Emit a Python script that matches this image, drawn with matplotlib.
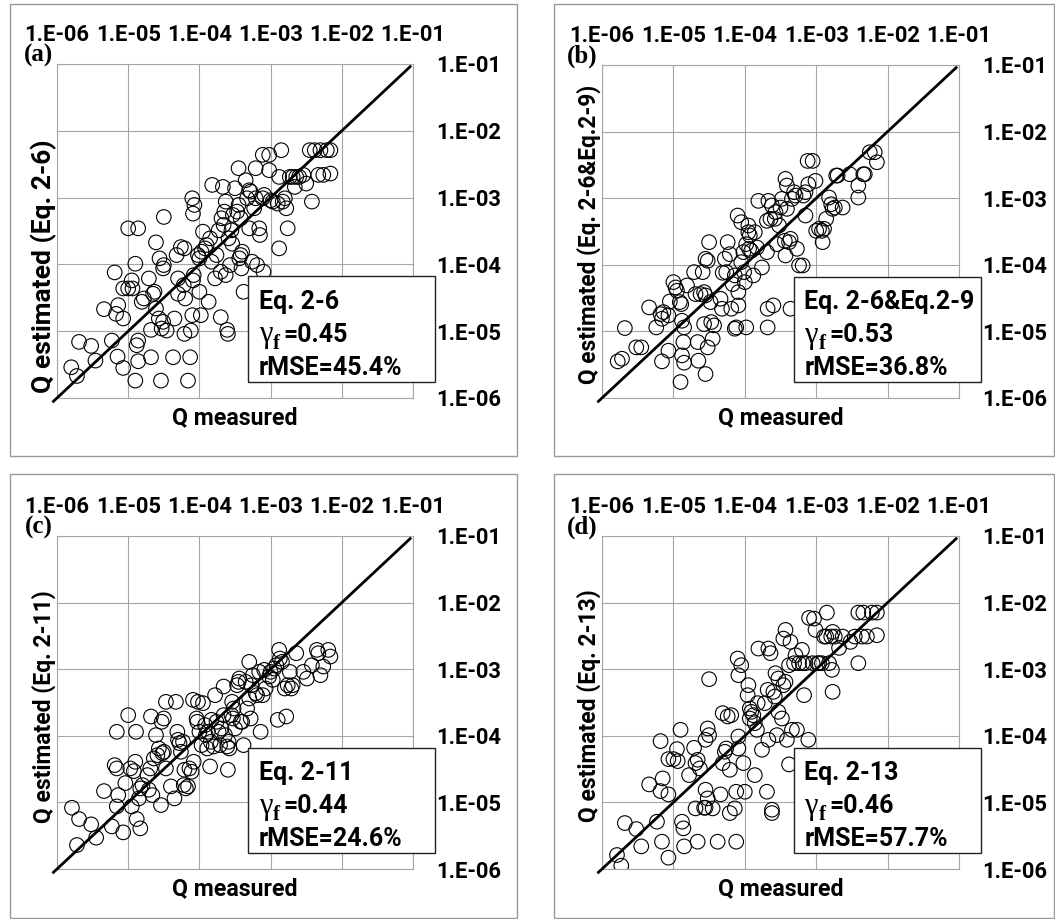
import numpy as np
import matplotlib
matplotlib.use("Agg")
import matplotlib.pyplot as plt
from matplotlib.patches import Rectangle
from matplotlib.ticker import FixedLocator, FixedFormatter, NullLocator

plt.rcParams['font.family'] = ['Roboto', 'DejaVu Sans']

# decade ticks shared by all panels
tick_vals = [1e-6, 1e-5, 1e-4, 1e-3, 1e-2, 1e-1]
tick_labels = ['1.E-06', '1.E-05', '1.E-04', '1.E-03', '1.E-02', '1.E-01']
one_to_one = [10 ** -6.05, 10 ** -1.04]   # ends of the 1:1 line

# points as log10(Q)
a_meas = [-5.80, -5.72, -5.69, -5.52, -5.46, -5.23, -5.15, -5.07, -5.17, -5.14, -5.07, -5.34, -5.19,
          -5.07, -5.00, -4.94, -4.95, -4.90, -5.00, -4.86, -4.90, -4.86, -4.88, -4.86, -4.81, -4.78,
          -4.71, -4.68, -4.68, -4.63, -4.65, -4.61, -4.61, -4.56, -4.57, -4.54, -4.53, -4.51, -4.51,
          -4.50, -4.46, -4.50, -4.37, -4.35, -4.30, -4.32, -4.30, -4.26, -4.22, -4.21, -4.21, -4.20,
          -4.16, -4.13, -4.12, -4.10, -4.09, -4.08, -4.10, -4.09, -4.07, -4.00, -3.98, -4.02, -4.00,
          -3.97, -3.95, -3.92, -3.90, -3.87, -3.85, -3.83, -3.82, -3.78, -3.76, -3.73, -3.70, -3.70,
          -3.69, -3.67, -3.66, -3.65, -3.63, -3.61, -3.60, -3.63, -3.59, -3.57, -3.55, -3.54, -3.53,
          -3.50, -3.47, -3.45, -3.45, -3.42, -3.44, -3.42, -3.41, -3.40, -3.38, -3.35, -3.33, -3.30,
          -3.30, -3.28, -3.26, -3.23, -3.21, -3.21, -3.19, -3.16, -3.15, -3.11, -3.10, -3.11, -3.09,
          -3.02, -3.02, -3.00, -2.97, -2.90, -2.88, -2.85, -2.88, -2.83, -2.80, -2.78, -2.76, -2.73,
          -2.69, -2.66, -2.64, -2.60, -2.54, -2.50, -2.45, -2.42, -2.38, -2.33, -2.30, -2.26, -2.21,
          -2.16, -2.16]
a_est = [-5.54, -5.67, -5.16, -5.22, -5.44, -5.14, -5.38, -5.55, -4.74, -4.61, -4.81, -4.67, -4.12,
         -4.36, -4.36, -4.36, -4.24, -3.99, -3.46, -3.46, -5.74, -5.14, -5.21, -5.45, -4.56, -4.51,
         -4.21, -5.39, -4.98, -4.41, -4.44, -4.66, -3.67, -3.91, -4.81, -5.74, -4.96, -4.86, -4.06,
         -4.01, -4.99, -3.29, -5.39, -4.81, -4.21, -3.86, -4.44, -3.74, -4.31, -3.76, -5.04, -4.51,
         -5.74, -5.39, -4.99, -4.76, -4.24, -4.16, -3.01, -3.24, -3.11, -4.41, -4.76, -3.86, -3.91,
         -3.81, -3.51, -3.76, -3.71, -4.56, -3.61, -3.96, -2.81, -4.21, -3.86, -3.49, -4.79, -4.11,
         -3.31, -2.84, -3.41, -3.21, -4.16, -4.98, -5.04, -3.06, -3.61, -4.01, -3.49, -3.69, -3.26,
         -2.86, -3.21, -3.11, -2.56, -3.31, -3.91, -3.86, -4.06, -3.81, -4.41, -2.74, -3.01, -3.46,
         -2.89, -2.91, -3.96, -3.16, -3.01, -2.56, -4.01, -3.46, -3.56, -3.01, -4.11, -2.36, -2.96,
         -2.36, -2.59, -3.04, -3.06, -3.09, -3.76, -2.29, -2.69, -3.06, -3.01, -3.16, -3.46, -2.69,
         -2.69, -2.84, -2.69, -2.69, -2.66, -2.79, -2.29, -3.06, -2.29, -2.66, -2.29, -2.66, -2.29,
         -2.29, -2.64]

b_meas = [-5.78, -5.72, -5.68, -5.52, -5.45, -5.34, -5.24, -5.18, -5.16, -5.14, -5.16, -5.07, -5.07,
          -5.05, -5.00, -4.97, -4.95, -4.91, -4.89, -4.88, -4.85, -4.90, -4.86, -4.88, -4.85, -4.81,
          -4.71, -4.69, -4.66, -4.65, -4.62, -4.59, -4.57, -4.55, -4.55, -4.52, -4.57, -4.52, -4.55,
          -4.47, -4.48, -4.50, -4.45, -4.43, -4.34, -4.32, -4.31, -4.28, -4.26, -4.24, -4.21, -4.19,
          -4.17, -4.14, -4.14, -4.12, -4.10, -4.09, -4.09, -4.05, -4.05, -4.02, -4.01, -4.00, -3.98,
          -3.98, -3.95, -3.95, -3.94, -3.93, -3.91, -3.88, -3.86, -3.83, -3.81, -3.76, -3.69, -3.68,
          -3.68, -3.69, -3.67, -3.64, -3.62, -3.60, -3.58, -3.57, -3.55, -3.52, -3.50, -3.48, -3.44,
          -3.43, -3.43, -3.41, -3.41, -3.38, -3.36, -3.36, -3.34, -3.31, -3.29, -3.27, -3.24, -3.19,
          -3.18, -3.15, -3.15, -3.12, -3.11, -3.05, -3.01, -3.00, -2.96, -2.92, -2.91, -2.89, -2.86,
          -2.82, -2.79, -2.77, -2.74, -2.72, -2.70, -2.63, -2.53, -2.41, -2.41, -2.34, -2.32, -2.25,
          -2.18, -2.15]
b_est = [-5.45, -5.41, -4.95, -5.24, -5.24, -4.64, -4.94, -4.74, -4.81, -4.71, -5.45, -4.76, -5.29,
         -4.55, -4.26, -4.34, -4.39, -4.56, -4.59, -4.84, -4.94, -5.76, -5.16, -5.36, -5.47, -4.31,
         -4.11, -4.44, -5.16, -5.44, -4.44, -4.11, -4.41, -4.46, -3.91, -3.94, -4.89, -5.24, -5.64,
         -4.86, -4.56, -3.66, -5.11, -4.91, -4.51, -4.66, -4.12, -3.91, -4.11, -3.66, -3.84, -4.66,
         -4.29, -4.96, -4.16, -4.94, -3.26, -4.61, -4.41, -3.36, -3.96, -3.81, -4.11, -4.26, -4.94,
         -3.69, -3.51, -3.41, -3.76, -3.56, -3.79, -4.16, -3.51, -3.74, -3.04, -4.04, -3.81, -4.66,
         -4.94, -3.34, -3.04, -3.31, -3.11, -4.61, -3.31, -3.21, -3.69, -3.41, -3.14, -3.01, -3.64,
         -2.71, -3.86, -2.81, -3.16, -3.66, -4.66, -3.61, -3.01, -2.91, -2.96, -3.76, -4.01, -4.01,
         -2.96, -2.91, -3.26, -2.44, -2.79, -2.44, -2.74, -3.49, -3.46, -3.49, -3.66, -3.46, -3.31,
         -2.99, -3.09, -3.16, -3.14, -2.66, -2.66, -3.14, -2.64, -2.81, -2.99, -2.64, -2.64, -2.31,
         -2.31, -2.46]

c_meas = [-5.79, -5.72, -5.69, -5.52, -5.45, -5.34, -5.23, -5.19, -5.16, -5.16, -5.14, -5.16, -5.07,
          -5.04, -5.00, -4.97, -4.95, -4.92, -4.90, -4.89, -4.88, -4.85, -4.83, -4.83, -4.80, -4.73,
          -4.71, -4.66, -4.69, -4.68, -4.64, -4.61, -4.59, -4.57, -4.54, -4.53, -4.52, -4.50, -4.50,
          -4.47, -4.47, -4.40, -4.35, -4.33, -4.31, -4.30, -4.28, -4.26, -4.23, -4.22, -4.21, -4.19,
          -4.16, -4.14, -4.11, -4.09, -4.08, -4.04, -4.03, -4.02, -4.00, -3.97, -3.95, -3.92, -3.91,
          -3.89, -3.88, -3.85, -3.84, -3.83, -3.80, -3.78, -3.76, -3.73, -3.71, -3.69, -3.66, -3.66,
          -3.64, -3.61, -3.60, -3.59, -3.58, -3.55, -3.54, -3.53, -3.52, -3.50, -3.47, -3.45, -3.44,
          -3.42, -3.40, -3.38, -3.35, -3.33, -3.30, -3.30, -3.28, -3.27, -3.25, -3.21, -3.19, -3.16,
          -3.14, -3.11, -3.09, -3.07, -3.02, -3.00, -2.97, -2.95, -2.92, -2.90, -2.88, -2.87, -2.84,
          -2.80, -2.78, -2.76, -2.73, -2.71, -2.69, -2.64, -2.54, -2.49, -2.42, -2.35, -2.33, -2.30,
          -2.26, -2.19, -2.16]
c_est = [-5.08, -5.64, -5.25, -5.33, -5.53, -4.83, -5.36, -4.44, -4.49, -3.94, -4.89, -5.06, -5.45,
         -4.71, -3.69, -4.49, -5.06, -4.53, -4.39, -3.94, -5.25, -4.94, -5.39, -4.79, -4.74, -4.59,
         -4.81, -4.89, -4.49, -3.71, -4.34, -3.99, -4.29, -4.19, -5.04, -3.79, -4.26, -3.74, -4.24,
         -3.49, -4.49, -4.76, -4.94, -3.49, -3.94, -4.06, -4.11, -4.24, -4.09, -4.74, -4.51, -4.79,
         -4.76, -4.49, -4.54, -3.46, -4.39, -3.74, -3.79, -3.49, -3.94, -4.14, -3.51, -3.84, -3.99,
         -4.19, -3.94, -4.46, -4.09, -3.76, -4.16, -3.39, -3.79, -3.94, -4.14, -3.89, -3.26, -3.69,
         -3.99, -4.16, -4.51, -4.09, -4.19, -3.69, -3.49, -3.74, -3.59, -3.89, -3.24, -3.19, -3.14,
         -3.79, -3.79, -4.14, -3.19, -3.59, -3.44, -2.89, -3.74, -3.24, -3.09, -3.36, -3.39, -3.04,
         -3.94, -3.39, -3.01, -3.29, -3.11, -3.04, -3.16, -2.99, -2.94, -3.76, -2.71, -2.84, -2.89,
         -3.29, -3.71, -3.24, -3.04, -3.29, -3.24, -2.76, -3.04, -3.14, -2.94, -2.71, -2.76, -3.09,
         -2.96, -2.71, -2.81]

d_meas = [-5.79, -5.73, -5.68, -5.52, -5.45, -5.23, -5.16, -5.07, -5.34, -5.18, -5.15, -5.07, -5.18,
          -5.07, -5.00, -4.94, -4.95, -4.90, -4.88, -4.86, -4.85, -4.78, -4.71, -4.69, -4.66, -4.66,
          -4.69, -4.63, -4.57, -4.55, -4.55, -4.52, -4.55, -4.52, -4.50, -4.50, -4.45, -4.38, -4.34,
          -4.31, -4.31, -4.28, -4.26, -4.24, -4.21, -4.19, -4.21, -4.14, -4.12, -4.12, -4.09, -4.09,
          -4.10, -4.09, -4.05, -4.02, -4.00, -3.95, -3.96, -3.93, -3.93, -3.91, -3.88, -3.86, -3.86,
          -3.83, -3.82, -3.81, -3.76, -3.72, -3.69, -3.68, -3.67, -3.67, -3.64, -3.62, -3.62, -3.60,
          -3.58, -3.57, -3.55, -3.53, -3.53, -3.48, -3.46, -3.46, -3.43, -3.43, -3.41, -3.38, -3.38,
          -3.36, -3.34, -3.31, -3.29, -3.27, -3.24, -3.20, -3.19, -3.17, -3.15, -3.11, -3.10, -3.05,
          -3.03, -3.01, -2.98, -2.96, -2.92, -2.89, -2.86, -2.85, -2.82, -2.79, -2.77, -2.78, -2.77,
          -2.74, -2.68, -2.63, -2.52, -2.46, -2.41, -2.41, -2.36, -2.34, -2.29, -2.22, -2.15, -2.15]
d_est = [-5.79, -5.95, -5.31, -5.40, -5.66, -5.29, -5.59, -5.83, -4.73, -4.83, -4.64, -4.88, -4.08,
         -4.35, -4.35, -4.38, -4.20, -3.91, -5.29, -5.39, -5.66, -4.59, -4.18, -4.41, -4.36, -5.59,
         -5.09, -4.49, -5.08, -4.81, -5.08, -4.94, -4.06, -3.89, -3.99, -3.15, -5.09, -5.59, -4.88,
         -4.41, -3.66, -4.24, -4.19, -3.71, -4.51, -3.69, -5.16, -5.09, -5.59, -4.84, -4.19, -4.01,
         -2.84, -3.09, -2.94, -4.41, -4.84, -3.24, -3.39, -3.59, -3.74, -3.64, -3.69, -3.81, -4.59,
         -3.91, -3.51, -2.69, -4.21, -3.51, -4.84, -3.31, -4.06, -2.69, -2.76, -5.11, -5.16, -3.34,
         -3.41, -3.06, -3.99, -3.14, -3.64, -3.74, -2.54, -3.24, -3.19, -2.41, -4.06, -2.94, -4.43,
         -2.59, -3.91, -2.91, -2.79, -3.91, -2.91, -2.71, -2.91, -3.39, -2.91, -4.06, -2.23, -2.91,
         -2.24, -2.41, -2.91, -2.91, -2.91, -2.51, -2.51, -2.15, -2.91, -2.51, -3.34, -3.01, -2.44,
         -2.51, -2.68, -2.51, -2.59, -2.51, -2.91, -2.15, -2.51, -2.15, -2.51, -2.15, -2.15, -2.49]

panel_tags = ['(a)', '(b)', '(c)', '(d)']
y_titles = ['Q estimated (Eq. 2-6)', 'Q estimated (Eq. 2-6&Eq.2-9)',
            'Q estimated (Eq. 2-11)', 'Q estimated (Eq. 2-13)']
eq_names = ['Eq. 2-6', 'Eq. 2-6&Eq.2-9', 'Eq. 2-11', 'Eq. 2-13']
gamma_f = ['0.45', '0.53', '0.44', '0.46']
rmse = ['45.4%', '36.8%', '24.6%', '57.7%']
meas = [a_meas, b_meas, c_meas, d_meas]
est = [a_est, b_est, c_est, d_est]

W, H = 1055, 919
fig = plt.figure(figsize=(W / 100, H / 100), dpi=100)

# plot areas in pixels: left, top, right, bottom
boxes = [(57, 64, 413, 398), (602, 65, 959, 398), (57, 536, 413, 869), (602, 536, 959, 869)]
frames = [(9.5, 4, 517, 456), (554, 4, 1054, 456), (9.5, 474, 517, 918), (554, 474, 1054, 918)]
ylab_pos = [0.395, 0.49, 0.488, 0.49]
ylab_size = [19, 16.3, 16.5, 16.5]

grey = '#a6a6a6'
for i in range(4):
    fl, ft, fr, fb = frames[i]
    fig.add_artist(Rectangle((fl / W, 1 - fb / H), (fr - fl) / W, (fb - ft) / H,
                             transform=fig.transFigure, fill=False, edgecolor='#9a9a9a', lw=1.0))

    l, t, r, b = boxes[i]
    ax = fig.add_axes([l / W, 1 - b / H, (r - l) / W, (b - t) / H])
    ax.set_xscale('log')
    ax.set_yscale('log')
    ax.set_xlim(1e-6, 1e-1)
    ax.set_ylim(1e-6, 1e-1)

    for axis in (ax.xaxis, ax.yaxis):
        axis.set_major_locator(FixedLocator(tick_vals))
        axis.set_major_formatter(FixedFormatter(tick_labels))
        axis.set_minor_locator(NullLocator())
    ax.tick_params(axis='x', bottom=False, top=False, labelbottom=False, labeltop=True,
                   length=0, pad=13, labelsize=15.8)
    ax.tick_params(axis='y', left=False, right=False, labelleft=False, labelright=True,
                   length=0, pad=17, labelsize=15.8)
    for lab in ax.get_xticklabels() + ax.get_yticklabels():
        lab.set_fontweight('bold')
    ax.grid(True, color=grey, lw=0.8)
    ax.set_axisbelow(True)
    for sp in ax.spines.values():
        sp.set_color(grey)
        sp.set_linewidth(0.8)

    ax.scatter(10.0 ** np.array(meas[i]), 10.0 ** np.array(est[i]), s=110,
               facecolors='none', edgecolors='black', linewidths=0.8, zorder=3)
    ax.plot(one_to_one, one_to_one, color='black', lw=2.0, zorder=4, clip_on=False)

    ax.text(0.5, -0.058, 'Q measured', transform=ax.transAxes, ha='center', va='center',
            fontsize=16.7, fontweight='bold')
    ax.text(-0.037, ylab_pos[i], y_titles[i], transform=ax.transAxes, ha='center', va='center',
            rotation=90, fontsize=ylab_size[i], fontweight='bold')
    ax.text(-0.012, 1.025, panel_tags[i], transform=ax.transAxes, ha='right', va='center',
            fontsize=18, fontweight='bold', family='Liberation Serif')

    # statistics box
    ax.add_patch(Rectangle((0.537, 0.047), 0.525, 0.317, transform=ax.transAxes,
                           facecolor='white', edgecolor='#222222', lw=1.0, zorder=6, clip_on=False))
    ax.text(0.567, 0.287, eq_names[i], transform=ax.transAxes, ha='left', va='center',
            fontsize=18, fontweight='bold', zorder=7)
    ax.text(0.567, 0.189, 'γ', transform=ax.transAxes, ha='left', va='center',
            fontsize=22, family='Liberation Serif', zorder=7)
    ax.text(0.607, 0.163, 'f', transform=ax.transAxes, ha='left', va='center',
            fontsize=15, fontweight='bold', family='Liberation Serif', zorder=7)
    ax.text(0.636, 0.189, '=' + gamma_f[i], transform=ax.transAxes, ha='left', va='center',
            fontsize=18, fontweight='bold', zorder=7)
    ax.text(0.567, 0.09, 'rMSE=' + rmse[i], transform=ax.transAxes, ha='left', va='center',
            fontsize=18, fontweight='bold', zorder=7)

fig.savefig('out.png', dpi=100)
